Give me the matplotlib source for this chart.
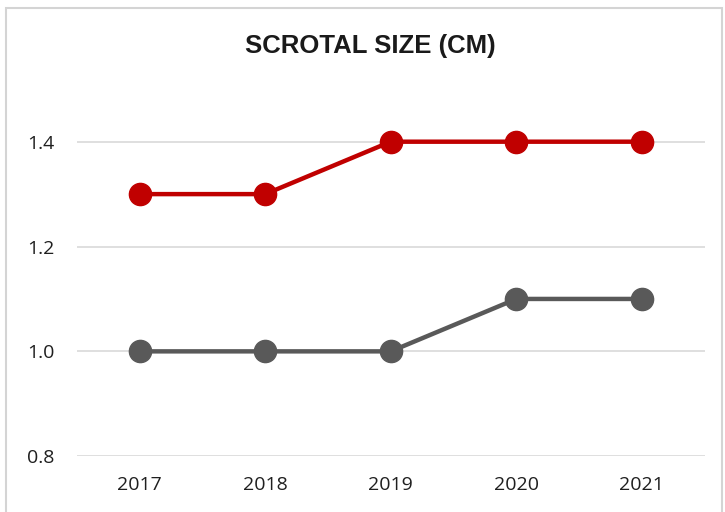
import matplotlib.pyplot as plt
from matplotlib.patches import Rectangle

years = ['2017', '2018', '2019', '2020', '2021']
red_vals = [1.3, 1.3, 1.4, 1.4, 1.4]
gray_vals = [1.0, 1.0, 1.0, 1.1, 1.1]
yticks = [0.8, 1.0, 1.2, 1.4]

fig = plt.figure(figsize=(7.25, 5.12), dpi=100)
ax = fig.add_axes([0.106, 0.109, 0.866, 0.819])

# light frame around the chart, cut at the bottom like the screenshot
fig.patches.append(Rectangle((6 / 725, -0.1), 716 / 725, 1.1 - 8 / 512,
                             transform=fig.transFigure, fill=False,
                             edgecolor='#d4d4d4', linewidth=1.5))

x = range(len(years))
ax.plot(x, red_vals, '-o', color='#c00000', lw=3.2, ms=16, zorder=3)
ax.plot(x, gray_vals, '-o', color='#595959', lw=3.2, ms=16, zorder=3)

ax.set_xlim(-0.5, 4.5)
ax.set_ylim(0.8, 1.6)
ax.set_yticks(yticks)
ax.set_yticklabels(['0.8', '1.0', '1.2', '1.4'])
ax.set_xticks(list(x))
ax.set_xticklabels(years)
for y in yticks:
    ax.axhline(y, color='#d9d9d9', lw=1.2, zorder=1)

for s in ax.spines.values():
    s.set_visible(False)
ax.tick_params(length=0, labelsize=14, labelcolor='#1f1f1f')
ax.tick_params(axis='y', pad=16)
ax.tick_params(axis='x', pad=14)
for lab in ax.get_xticklabels() + ax.get_yticklabels():
    lab.set_family('Open Sans')

fig.text(0.511, 0.91, 'SCROTAL SIZE (CM)', ha='center', va='center',
         fontsize=18.5, fontweight='bold', family='Liberation Sans', color='#1a1a1a')

fig.savefig('out.png', dpi=100)
